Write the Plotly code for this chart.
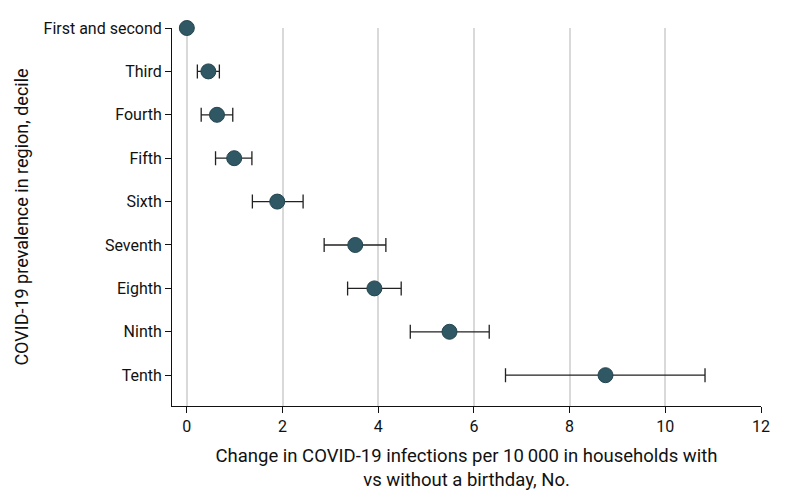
import plotly.graph_objects as go

categories = ["First and second", "Third", "Fourth", "Fifth", "Sixth",
              "Seventh", "Eighth", "Ninth", "Tenth"]
estimate = [0.0, 0.45, 0.63, 0.99, 1.89, 3.52, 3.92, 5.49, 8.75]
lower = [0.0, 0.22, 0.30, 0.60, 1.37, 2.87, 3.36, 4.67, 6.66]
upper = [0.0, 0.68, 0.96, 1.36, 2.43, 4.16, 4.48, 6.32, 10.83]
x_ticks = [0, 2, 4, 6, 8, 10, 12]

ypos = list(range(len(categories)))
err_plus = [u - e for u, e in zip(upper, estimate)]
err_minus = [e - l for e, l in zip(estimate, lower)]

FONT = "Roboto, Arial, sans-serif"

fig = go.Figure()
fig.add_trace(go.Scatter(
    x=estimate, y=ypos, mode="markers",
    marker=dict(size=15, color="#2f5864", line=dict(color="#24454f", width=1)),
    error_x=dict(type="data", symmetric=False, array=err_plus, arrayminus=err_minus,
                 color="#222222", thickness=1.3, width=7),
    cliponaxis=False, showlegend=False,
))

fig.update_layout(
    width=792, height=496,
    margin=dict(l=164, r=39, t=20, b=98),
    plot_bgcolor="white", paper_bgcolor="white",
    font=dict(family=FONT, size=16, color="#111111"),
    xaxis=dict(
        range=[-0.31, 12], tickvals=x_ticks, ticktext=[str(t) for t in x_ticks],
        showgrid=True, gridcolor="#d9d9d9", gridwidth=2, zeroline=False,
        showline=True, linecolor="#111111", linewidth=1,
        ticks="outside", ticklen=6, tickcolor="#111111",
        title=dict(text="Change in COVID-19 infections per 10\u2009000 in households with<br>vs without a birthday, No.",
                   font=dict(size=18.5), standoff=13),
        tickfont=dict(size=16),
    ),
    yaxis=dict(
        range=[8.71, 0], tickvals=ypos, ticktext=categories,
        showgrid=False, zeroline=False,
        showline=True, linecolor="#111111", linewidth=1,
        ticks="outside", ticklen=6, tickcolor="#111111",
        title=dict(text="COVID-19 prevalence in region, decile", font=dict(size=18), standoff=10),
        tickfont=dict(size=16),
    ),
)

fig.write_html("out.html")
